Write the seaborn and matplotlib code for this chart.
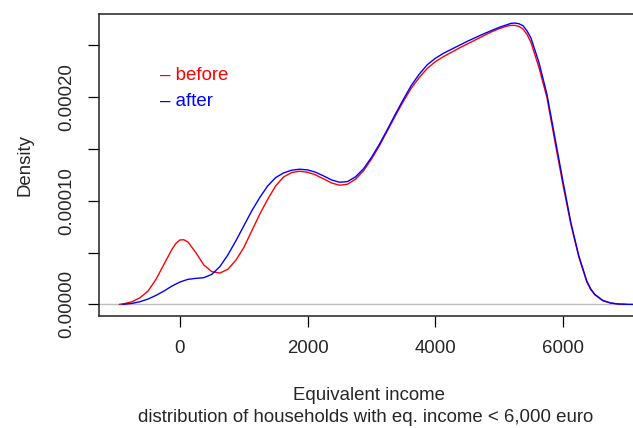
import matplotlib
matplotlib.use("Agg")
import matplotlib.pyplot as plt
import pandas as pd
import seaborn as sns

# Kernel density of equivalent income (euro), households below 6,000 euro
income_before = [-950, -875, -750, -625, -500, -375, -250, -125, -62.5, 0,
                 62.5, 125, 250, 375, 500, 625, 750, 875, 1000, 1125, 1250,
                 1375, 1500, 1625, 1750, 1875, 2000, 2125, 2250, 2375, 2500,
                 2625, 2750, 2875, 3000, 3125, 3250, 3375, 3500, 3625, 3750,
                 3875, 4000, 4125, 4250, 4375, 4500, 4625, 4750, 4875, 5000,
                 5125, 5187.5, 5250, 5312.5, 5375, 5437.5, 5500, 5625, 5750,
                 5875, 6000, 6125, 6250, 6375, 6437.5, 6500, 6625, 6750, 6875,
                 7000]
density_before = [0.00, 0.64, 2.57, 6.44, 12.87, 24.14, 38.62, 53.10, 58.80,
                  62.11, 62.30, 60.18, 49.88, 37.97, 31.54, 30.25, 33.79,
                  42.48, 54.71, 70.80, 86.89, 101.37, 114.24, 122.93, 127.11,
                  128.40, 127.43, 124.86, 121.00, 117.14, 114.88, 115.85,
                  120.68, 128.72, 139.98, 152.86, 167.34, 181.82, 195.65,
                  208.53, 218.82, 227.51, 233.95, 238.78, 242.96, 247.14,
                  251.00, 254.87, 258.73, 262.59, 265.81, 268.38, 269.10,
                  269.02, 268.00, 265.49, 260.40, 252.61, 228.48, 199.52,
                  157.04, 115.85, 77.23, 45.70, 21.56, 14.20, 9.33, 3.54,
                  1.29, 0.32, 0.00]

income_after = [-900, -875, -750, -625, -500, -375, -250, -125, 0, 125, 250,
                375, 500, 625, 750, 875, 1000, 1125, 1250, 1375, 1500, 1625,
                1750, 1875, 2000, 2125, 2250, 2375, 2500, 2625, 2750, 2875,
                3000, 3125, 3250, 3375, 3500, 3625, 3750, 3875, 4000, 4125,
                4250, 4375, 4500, 4625, 4750, 4875, 5000, 5125, 5187.5, 5250,
                5312.5, 5375, 5437.5, 5500, 5625, 5750, 5875, 6000, 6125,
                6250, 6375, 6437.5, 6500, 6625, 6750, 6875, 7000, 7100]
density_after = [0.00, 0.16, 0.97, 2.57, 5.15, 8.69, 12.87, 17.70, 21.56,
                 24.14, 25.10, 25.74, 28.96, 36.36, 47.63, 61.14, 75.62,
                 90.10, 102.98, 114.24, 122.28, 126.79, 129.36, 130.33,
                 129.69, 127.43, 123.89, 120.03, 117.78, 118.42, 122.93,
                 130.65, 141.59, 154.46, 168.62, 183.43, 197.59, 211.10,
                 222.04, 231.05, 237.17, 241.99, 245.86, 249.72, 253.58,
                 257.12, 260.66, 263.88, 267.10, 269.67, 271.00, 271.28,
                 270.60, 268.70, 263.80, 256.80, 233.31, 202.73, 160.90,
                 119.07, 78.84, 46.66, 22.53, 14.80, 9.65, 3.86, 1.29, 0.32,
                 0.10, 0.00]

DENSITY_UNIT = 1e-6  # the density lists are in units of 1e-6

groups = ["before", "after"]
group_colors = ["#FF0000", "#0000FF"]

x_ticks = [0, 2000, 4000, 6000]
y_ticks = [0.0, 0.00005, 0.00010, 0.00015, 0.00020, 0.00025]
y_tick_labels = ["0.00000", "", "0.00010", "", "0.00020", ""]

df = pd.concat([
    pd.DataFrame({"income": income_before,
                  "density": [v * DENSITY_UNIT for v in density_before],
                  "group": "before"}),
    pd.DataFrame({"income": income_after,
                  "density": [v * DENSITY_UNIT for v in density_after],
                  "group": "after"}),
], ignore_index=True)

sns.set_style("white")
plt.rcParams["font.family"] = ["Liberation Sans", "DejaVu Sans"]
FS = 13.4

fig = plt.figure(figsize=(6.33, 4.28), dpi=100)
W, H = 633, 428
left, right, bottom, top = 99, 647, 316, 14
ax = fig.add_axes([left / W, 1 - bottom / H, (right - left) / W, (bottom - top) / H])

ax.axhline(0, color="#BEBEBE", lw=1.0, zorder=1)
sns.lineplot(data=df, x="income", y="density", hue="group", hue_order=groups,
             palette=dict(zip(groups, group_colors)), estimator=None, sort=False,
             lw=1.0, legend=False, ax=ax, zorder=3)

ax.set_xlim(-1268, 7318)
ax.set_ylim(-1.12e-5, 2.80e-4)
ax.set_xticks(x_ticks)
ax.set_xticklabels([str(t) for t in x_ticks])
ax.set_yticks(y_ticks)
ax.set_yticklabels(y_tick_labels, rotation=90, va="center")
ax.tick_params(axis="both", direction="out", length=8, width=0.9, color="black",
               labelsize=FS, pad=9, left=True, bottom=True)
for s in ax.spines.values():
    s.set_visible(True)
    s.set_color("#222222")
    s.set_linewidth(1.1)

ax.set_xlabel("")
ax.set_ylabel("Density", fontsize=FS, labelpad=18)
fig.text(369 / W, 1 - 395 / H, "Equivalent income", ha="center", va="center", fontsize=FS)
fig.text(366 / W, 1 - 418 / H, "distribution of households with eq. income < 6,000 euro",
         ha="center", va="center", fontsize=FS)

for name, color, ypos in zip(groups, group_colors, [75, 102]):
    ax.text((160 - left) / (right - left), (bottom - ypos) / (bottom - top),
            "\u2013 " + name, color=color, fontsize=FS, ha="left", va="center",
            transform=ax.transAxes)

fig.savefig("out.png", dpi=100)
